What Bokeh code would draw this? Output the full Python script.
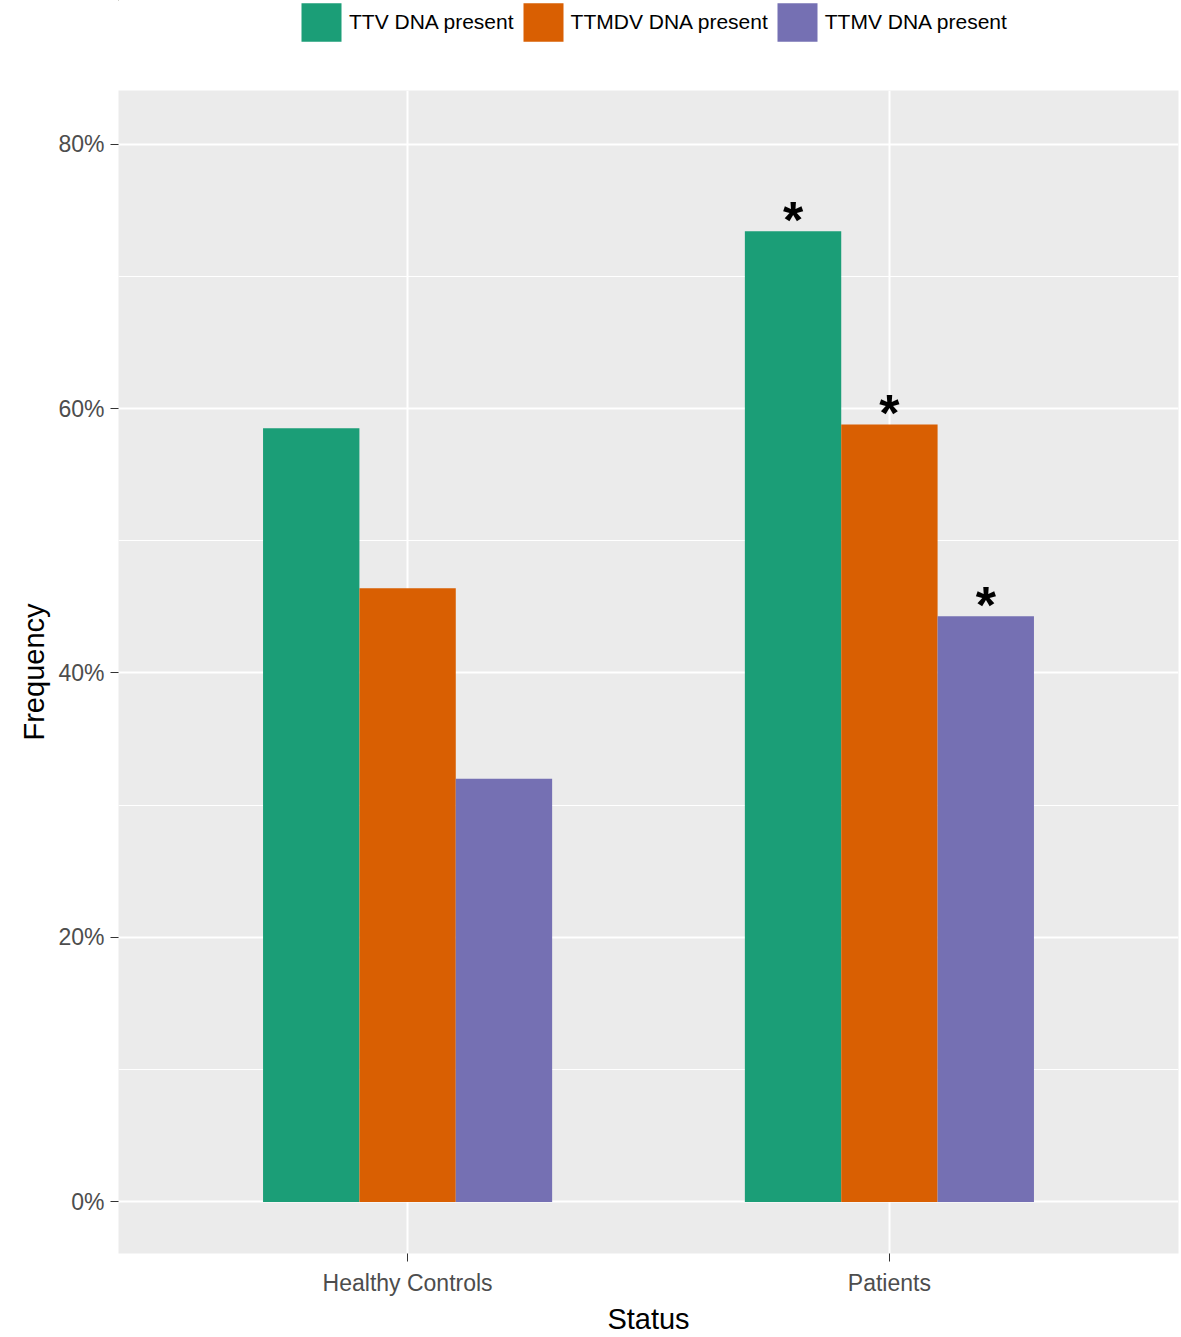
from bokeh.plotting import figure
from bokeh.layouts import column
from bokeh.models import ColumnDataSource, FixedTicker, Legend, LegendItem, Range1d
from bokeh.core.properties import value
from bokeh.embed import file_html
from bokeh.resources import INLINE

# Data
groups = ["Healthy Controls", "Patients"]
series = ["TTV DNA present", "TTMDV DNA present", "TTMV DNA present"]
colors = ["#1B9E77", "#D95F02", "#7570B3"]
ttv = [58.5, 73.4]
ttmdv = [46.4, 58.8]
ttmv = [32.0, 44.3]
significant_ttv = [False, True]
significant_ttmdv = [False, True]
significant_ttmv = [False, True]
y_ticks = [0, 20, 40, 60, 80]
y_minor = [10, 30, 50, 70]

FONT = "Liberation Sans"

p = figure(width=1181, height=1247, output_backend="svg", toolbar_location=None,
           x_range=Range1d(0.4, 2.6), y_range=Range1d(-3.9, 84.05),
           min_border_left=118, min_border_right=3, min_border_top=0, min_border_bottom=75)
p.background_fill_color = "#EBEBEB"
p.border_fill_color = "white"
p.outline_line_color = None

# legend strip on top (same data sources, drawn off-range so only the legend shows)
lg = figure(width=1181, height=90, output_backend="svg", toolbar_location=None,
            x_range=Range1d(10, 11), y_range=Range1d(-1000, -999),
            min_border_left=118, min_border_right=3, min_border_top=0, min_border_bottom=0)
lg.axis.visible = False
lg.grid.grid_line_color = None
lg.outline_line_color = None
lg.background_fill_color = "white"
lg.border_fill_color = "white"

vals = [ttv, ttmdv, ttmv]
sigs = [significant_ttv, significant_ttmdv, significant_ttmv]
offsets = [-0.2, 0.0, 0.2]
legend_renderers = []
for name, col, v, s, off in zip(series, colors, vals, sigs, offsets):
    xs = [i + 1 + off for i in range(len(groups))]
    src = ColumnDataSource(dict(x=xs, top=v))
    p.vbar(x="x", top="top", bottom=0, width=0.2, source=src,
           fill_color=col, line_color=None)
    legend_renderers.append(lg.vbar(x="x", top="top", bottom=0, width=0.2, source=src,
                                    fill_color=col, line_color=None))
    sx = [x for x, f in zip(xs, s) if f]
    sy = [t for t, f in zip(v, s) if f]
    st = ["*" for f in s if f]
    p.text(x=sx, y=sy, text=st, text_align="center", text_baseline="bottom", y_offset=18,
           text_font=value(FONT), text_font_size="52px", text_font_style="bold",
           text_color="black")

legend = Legend(items=[LegendItem(label=n, renderers=[r]) for n, r in zip(series, legend_renderers)],
                orientation="horizontal", location=(178, 44),
                glyph_width=50, glyph_height=48, label_standoff=3, spacing=4,
                label_text_font=FONT, label_text_font_size="21px", label_text_color="black",
                border_line_color=None, background_fill_alpha=0, padding=0, margin=0)
lg.add_layout(legend)

# axes
p.xaxis.ticker = FixedTicker(ticks=[1, 2])
p.xaxis.major_label_overrides = {1: groups[0], 2: groups[1]}
p.yaxis.ticker = FixedTicker(ticks=y_ticks, minor_ticks=y_minor)
p.yaxis.major_label_overrides = {t: f"{t}%" for t in y_ticks}
for ax in [p.xaxis[0], p.yaxis[0]]:
    ax.axis_line_color = None
    ax.major_tick_line_color = "#333333"
    ax.major_tick_in = 0
    ax.major_tick_out = 8
    ax.minor_tick_line_color = None
    ax.major_label_text_font = FONT
    ax.major_label_text_font_size = "23px"
    ax.major_label_text_color = "#4D4D4D"
    ax.axis_label_text_font = FONT
    ax.axis_label_text_font_size = "29px"
    ax.axis_label_text_font_style = "normal"
    ax.axis_label_text_color = "black"
p.xaxis.axis_label = "Status"
p.yaxis.axis_label = "Frequency"
p.xaxis.major_label_standoff = 8
p.yaxis.major_label_standoff = 6
p.xaxis.axis_label_standoff = 4

p.xgrid.grid_line_color = "white"
p.xgrid.grid_line_width = 2
p.ygrid.grid_line_color = "white"
p.ygrid.grid_line_width = 2
p.ygrid.minor_grid_line_color = "white"
p.ygrid.minor_grid_line_width = 1

open("out.html", "w").write(file_html(column(lg, p), INLINE))
